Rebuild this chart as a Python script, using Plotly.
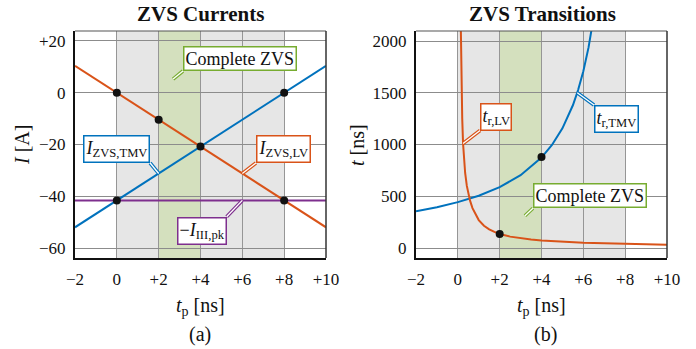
import plotly.graph_objects as go

# ---------------- data ----------------
# (a) ZVS currents
tp_lines = [-2, 0, 2, 4, 6, 8, 10]
i_zvs_lv = [10.4, 0, -10.4, -20.8, -31.2, -41.6, -52.0]
i_zvs_tmv = [-52.0, -41.6, -31.2, -20.8, -10.4, 0, 10.4]
tp_pk = [-2, 10]
neg_i_iii_pk = [-41.6, -41.6]
dots_a_x = [0, 2, 4, 8, 0, 8]
dots_a_y = [0, -10.4, -20.8, 0, -41.6, -41.6]

# (b) ZVS transitions
tp_lv = [0.145, 0.16, 0.18, 0.21, 0.25, 0.3, 0.35, 0.43, 0.5, 0.58, 0.7, 0.85, 1.0,
         1.25, 1.5, 1.75, 2.0, 2.5, 3.0, 3.5, 4.0, 5.0, 6.0, 7.0, 8.0, 9.0, 10.0]
t_r_lv = [2100, 1800, 1520, 1250, 1010, 845, 725, 600, 520, 460, 385, 320, 270,
          215, 180, 155, 135, 110, 93, 82, 73, 60, 51, 45, 40, 35, 31]
tp_tmv = [-2, -1, 0, 1, 2, 3, 4, 4.5, 5, 5.5, 5.75, 6, 6.25, 6.5]
t_r_tmv = [355, 394, 443, 505, 588, 703, 874, 996, 1156, 1379, 1526, 1707, 1938, 2241]
dots_b_x = [2, 4]
dots_b_y = [135, 880]

x_ticks = [-2, 0, 2, 4, 6, 8, 10]
x_ticktext = ["−2", "0", "+2", "+4", "+6", "+8", "+10"]
ya_ticks = [-60, -40, -20, 0, 20]
ya_ticktext = ["−60", "−40", "−20", "0", "+20"]
yb_ticks = [0, 500, 1000, 1500, 2000]
yb_ticktext = ["0", "500", "1000", "1500", "2000"]

# ---------------- style ----------------
FONT = "Liberation Serif, Times New Roman, serif"
BLUE = "#0072BD"
ORANGE = "#D95319"
PURPLE = "#7E2F8E"
GREEN = "#77AC30"
GRAY_FILL = "#e6e6e6"
GREEN_FILL = "#d4e0be"
W, H = 696, 349

fig = go.Figure()

def line(x, y, color, xa, ya):
    fig.add_trace(go.Scatter(x=x, y=y, mode="lines", line=dict(color=color, width=2),
                             xaxis=xa, yaxis=ya, hoverinfo="skip"))

def dots(x, y, xa, ya):
    fig.add_trace(go.Scatter(x=x, y=y, mode="markers", marker=dict(color="#111", size=8),
                             xaxis=xa, yaxis=ya, hoverinfo="skip"))

line(tp_pk, neg_i_iii_pk, PURPLE, "x", "y")
line(tp_lines, i_zvs_tmv, BLUE, "x", "y")
line(tp_lines, i_zvs_lv, ORANGE, "x", "y")
dots(dots_a_x, dots_a_y, "x", "y")

line(tp_tmv, t_r_tmv, BLUE, "x2", "y2")
line(tp_lv, t_r_lv, ORANGE, "x2", "y2")
dots(dots_b_x, dots_b_y, "x2", "y2")

ydom = [1 - 258 / H, 1 - 31 / H]
axfont = dict(family=FONT, size=17, color="#111")
common_x = dict(range=[-2, 10], tickvals=x_ticks, ticktext=x_ticktext, showgrid=True,
                gridcolor="#969696", gridwidth=1.4, showline=True, linecolor="#111",
                linewidth=2, ticks="", zeroline=False, tickfont=axfont, fixedrange=True,
                automargin=False, ticklabelstandoff=5)
common_y = dict(showgrid=True, gridcolor="#8c8c8c", gridwidth=1, showline=True,
                linecolor="#111", linewidth=2, ticks="", zeroline=False, tickfont=axfont,
                domain=ydom, fixedrange=True, automargin=False, ticklabelstandoff=4)

fig.update_layout(
    width=W, height=H, autosize=False, margin=dict(l=0, r=0, t=0, b=0),
    paper_bgcolor="white", plot_bgcolor="white", showlegend=False,
    font=dict(family=FONT, color="#111"),
    xaxis=dict(domain=[75 / W, 326 / W], anchor="y", **common_x),
    yaxis=dict(range=[-63.86, 23.86], tickvals=ya_ticks, ticktext=ya_ticktext, anchor="x", **common_y),
    xaxis2=dict(domain=[416 / W, 667 / W], anchor="y2", **common_x),
    yaxis2=dict(range=[-96.6, 2096.6], tickvals=yb_ticks, ticktext=yb_ticktext, anchor="x2", **common_y),
)

shapes = []
for xr, yr in (("x", "y"), ("x2", "y2")):
    shapes.append(dict(type="rect", xref=xr, yref=yr + " domain", x0=0, x1=8, y0=0, y1=1,
                       fillcolor=GRAY_FILL, line=dict(width=0), layer="below"))
    shapes.append(dict(type="rect", xref=xr, yref=yr + " domain", x0=2, x1=4, y0=0, y1=1,
                       fillcolor=GREEN_FILL, line=dict(width=0), layer="below"))
    shapes.append(dict(type="line", xref=xr + " domain", yref=yr + " domain", x0=0, x1=1, y0=1, y1=1,
                       line=dict(color="#555", width=1.2), layer="above"))
    shapes.append(dict(type="line", xref=xr + " domain", yref=yr + " domain", x0=1, x1=1, y0=0, y1=1,
                       line=dict(color="#333", width=1.5), layer="above"))

ann = []

def callout(text, color, head, tail, xanchor, yanchor, xr, yr):
    # leader line: coloured outline with a white core
    shapes.append(dict(type="line", xref=xr, yref=yr, x0=head[0], y0=head[1], x1=tail[0], y1=tail[1],
                       line=dict(color=color, width=3.6), layer="above"))
    shapes.append(dict(type="line", xref=xr, yref=yr, x0=head[0], y0=head[1], x1=tail[0], y1=tail[1],
                       line=dict(color="white", width=1.3), layer="above"))
    ann.append(dict(text=text, x=tail[0], y=tail[1], xref=xr, yref=yr,
                    xanchor=xanchor, yanchor=yanchor, showarrow=False,
                    borderpad=1, borderwidth=1.5, bgcolor="white", bordercolor=color,
                    font=dict(family=FONT, size=18, color="#111")))

callout("Complete ZVS", GREEN, (2.69, 5.3), (3.16, 8.4), "left", "bottom", "x", "y")
callout("<i>I</i><sub>ZVS,TMV</sub>", BLUE, (2, -31.2), (1.59, -27.15), "right", "bottom", "x", "y")
callout("<i>I</i><sub>ZVS,LV</sub>", ORANGE, (6, -31.2), (6.65, -27.15), "left", "bottom", "x", "y")
callout("−<i>I</i><sub>III,pk</sub>", PURPLE, (6, -41.6), (5.25, -47.9), "right", "top", "x", "y")

callout("<i>t</i><sub>r,LV</sub>", ORANGE, (0.25, 1010), (1.06, 1135), "left", "bottom", "x2", "y2")
callout("<i>t</i><sub>r,TMV</sub>", BLUE, (5.71, 1500), (6.51, 1382), "left", "top", "x2", "y2")
callout("Complete ZVS", GREEN, (3.21, 312), (3.59, 384), "left", "bottom", "x2", "y2")

def ptext(text, px, py, size=20, angle=0):
    ann.append(dict(text=text, x=px / W, y=1 - py / H, xref="paper", yref="paper",
                    showarrow=False, xanchor="center", yanchor="middle", textangle=angle,
                    font=dict(family=FONT, size=size, color="#111")))

ptext("<b>ZVS Currents</b>", 200, 14, 21)
ptext("<b>ZVS Transitions</b>", 542, 14, 21)
ptext("<i>I</i> [A]", 22, 145, 20, -90)
ptext("<i>t</i> [ns]", 357, 145, 20, -90)
ptext("<i>t</i><sub>p</sub> [ns]", 200, 306, 20)
ptext("<i>t</i><sub>p</sub> [ns]", 541, 306, 20)
ptext("(a)", 200, 334, 20)
ptext("(b)", 545, 334, 20)

fig.update_layout(shapes=shapes, annotations=ann)
fig.write_html("out.html", config={"displayModeBar": False},
               post_script="document.body.style.margin='0';document.body.style.padding='0';"
                           "document.documentElement.style.overflow='hidden';")
